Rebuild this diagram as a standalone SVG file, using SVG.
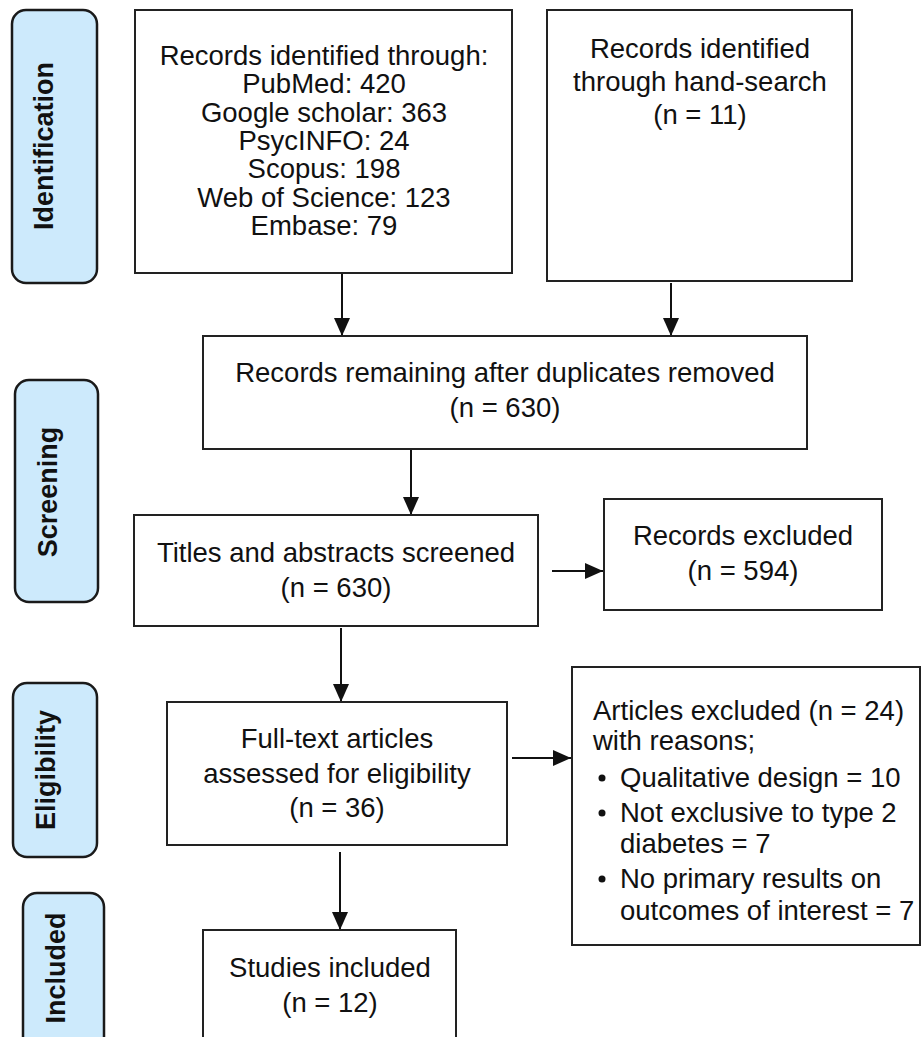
<svg xmlns="http://www.w3.org/2000/svg" width="922" height="1037" viewBox="0 0 922 1037">
  <style>
    .box { fill: #ffffff; stroke: #222222; stroke-width: 2; }
    .stage { fill: #cdeafc; stroke: #1a1a1a; stroke-width: 2.5; }
    .t { font-family: "Liberation Sans", Arial, sans-serif; font-size: 27.5px; fill: #111111; text-anchor: middle; }
    .tl { font-family: "Liberation Sans", Arial, sans-serif; font-size: 27.5px; fill: #111111; text-anchor: start; }
    .st { font-family: "Liberation Sans", Arial, sans-serif; font-size: 27px; font-weight: bold; fill: #111111; text-anchor: middle; }
    .conn { stroke: #111111; stroke-width: 2; fill: none; }
  </style>
  <defs>
    <marker id="ah" markerUnits="userSpaceOnUse" markerWidth="18" markerHeight="16" refX="18" refY="8" orient="auto">
      <path d="M0,0 L18,8 L0,16 Z" fill="#111111"/>
    </marker>
  </defs>
  <rect width="922" height="1037" fill="#ffffff"/>

  <g id="stage-identification">
    <rect class="stage" x="12" y="10" width="85" height="273" rx="14"/>
    <text class="st" transform="translate(53,146) rotate(-90)">Identification</text>
  </g>
  <g id="stage-screening">
    <rect class="stage" x="15" y="380" width="83" height="222" rx="14"/>
    <text class="st" transform="translate(57,492) rotate(-90)">Screening</text>
  </g>
  <g id="stage-eligibility">
    <rect class="stage" x="13" y="683" width="84" height="174" rx="14"/>
    <text class="st" transform="translate(55,770) rotate(-90)">Eligibility</text>
  </g>
  <g id="stage-included">
    <rect class="stage" x="23" y="893" width="81" height="160" rx="14"/>
    <text class="st" transform="translate(65,968) rotate(-90)">Included</text>
  </g>

  <g id="connectors">
    <line class="conn" x1="342" y1="273" x2="342" y2="336" marker-end="url(#ah)"/>
    <line class="conn" x1="671" y1="283" x2="671" y2="336" marker-end="url(#ah)"/>
    <line class="conn" x1="411" y1="449" x2="411" y2="515" marker-end="url(#ah)"/>
    <line class="conn" x1="552" y1="571" x2="603" y2="571" marker-end="url(#ah)"/>
    <line class="conn" x1="341" y1="628" x2="341" y2="702" marker-end="url(#ah)"/>
    <line class="conn" x1="512" y1="758" x2="571" y2="758" marker-end="url(#ah)"/>
    <line class="conn" x1="340" y1="852" x2="340" y2="930" marker-end="url(#ah)"/>
  </g>

  <g id="records-databases">
    <rect class="box" x="135" y="10" width="377" height="263"/>
    <text class="t" x="324" y="65">Records identified through:</text>
    <text class="t" x="324" y="93">PubMed: 420</text>
    <text class="t" x="324" y="122">Google scholar: 363</text>
    <text class="t" x="324" y="150">PsycINFO: 24</text>
    <text class="t" x="324" y="178">Scopus: 198</text>
    <text class="t" x="324" y="207">Web of Science: 123</text>
    <text class="t" x="324" y="235">Embase: 79</text>
  </g>

  <g id="records-hand-search">
    <rect class="box" x="547" y="10" width="305" height="271"/>
    <text class="t" x="700" y="58">Records identified</text>
    <text class="t" x="700" y="91">through hand-search</text>
    <text class="t" x="700" y="124">(n = 11)</text>
  </g>

  <g id="records-after-duplicates">
    <rect class="box" x="203" y="336" width="604" height="113"/>
    <text class="t" x="505" y="382">Records remaining after duplicates removed</text>
    <text class="t" x="505" y="417">(n = 630)</text>
  </g>

  <g id="titles-abstracts">
    <rect class="box" x="134" y="515" width="404" height="111"/>
    <text class="t" x="336" y="562">Titles and abstracts screened</text>
    <text class="t" x="336" y="597">(n = 630)</text>
  </g>

  <g id="records-excluded">
    <rect class="box" x="604" y="499" width="278" height="111"/>
    <text class="t" x="743" y="545">Records excluded</text>
    <text class="t" x="743" y="580">(n = 594)</text>
  </g>

  <g id="full-text">
    <rect class="box" x="167" y="702" width="340" height="143"/>
    <text class="t" x="337" y="748">Full-text articles</text>
    <text class="t" x="337" y="783">assessed for eligibility</text>
    <text class="t" x="337" y="817">(n = 36)</text>
  </g>

  <g id="articles-excluded">
    <rect class="box" x="572" y="667" width="348" height="278"/>
    <text class="tl" x="593" y="720">Articles excluded (n = 24)</text>
    <text class="tl" x="593" y="750">with reasons;</text>
    <circle cx="602" cy="778" r="3.5" fill="#111111"/>
    <text class="tl" x="620" y="787">Qualitative design = 10</text>
    <circle cx="602" cy="813" r="3.5" fill="#111111"/>
    <text class="tl" x="620" y="822">Not exclusive to type 2</text>
    <text class="tl" x="620" y="853">diabetes = 7</text>
    <circle cx="602" cy="879" r="3.5" fill="#111111"/>
    <text class="tl" x="620" y="888">No primary results on</text>
    <text class="tl" x="620" y="920">outcomes of interest = 7</text>
  </g>

  <g id="studies-included">
    <rect class="box" x="203" y="930" width="253" height="120"/>
    <text class="t" x="330" y="977">Studies included</text>
    <text class="t" x="330" y="1012">(n = 12)</text>
  </g>
</svg>
